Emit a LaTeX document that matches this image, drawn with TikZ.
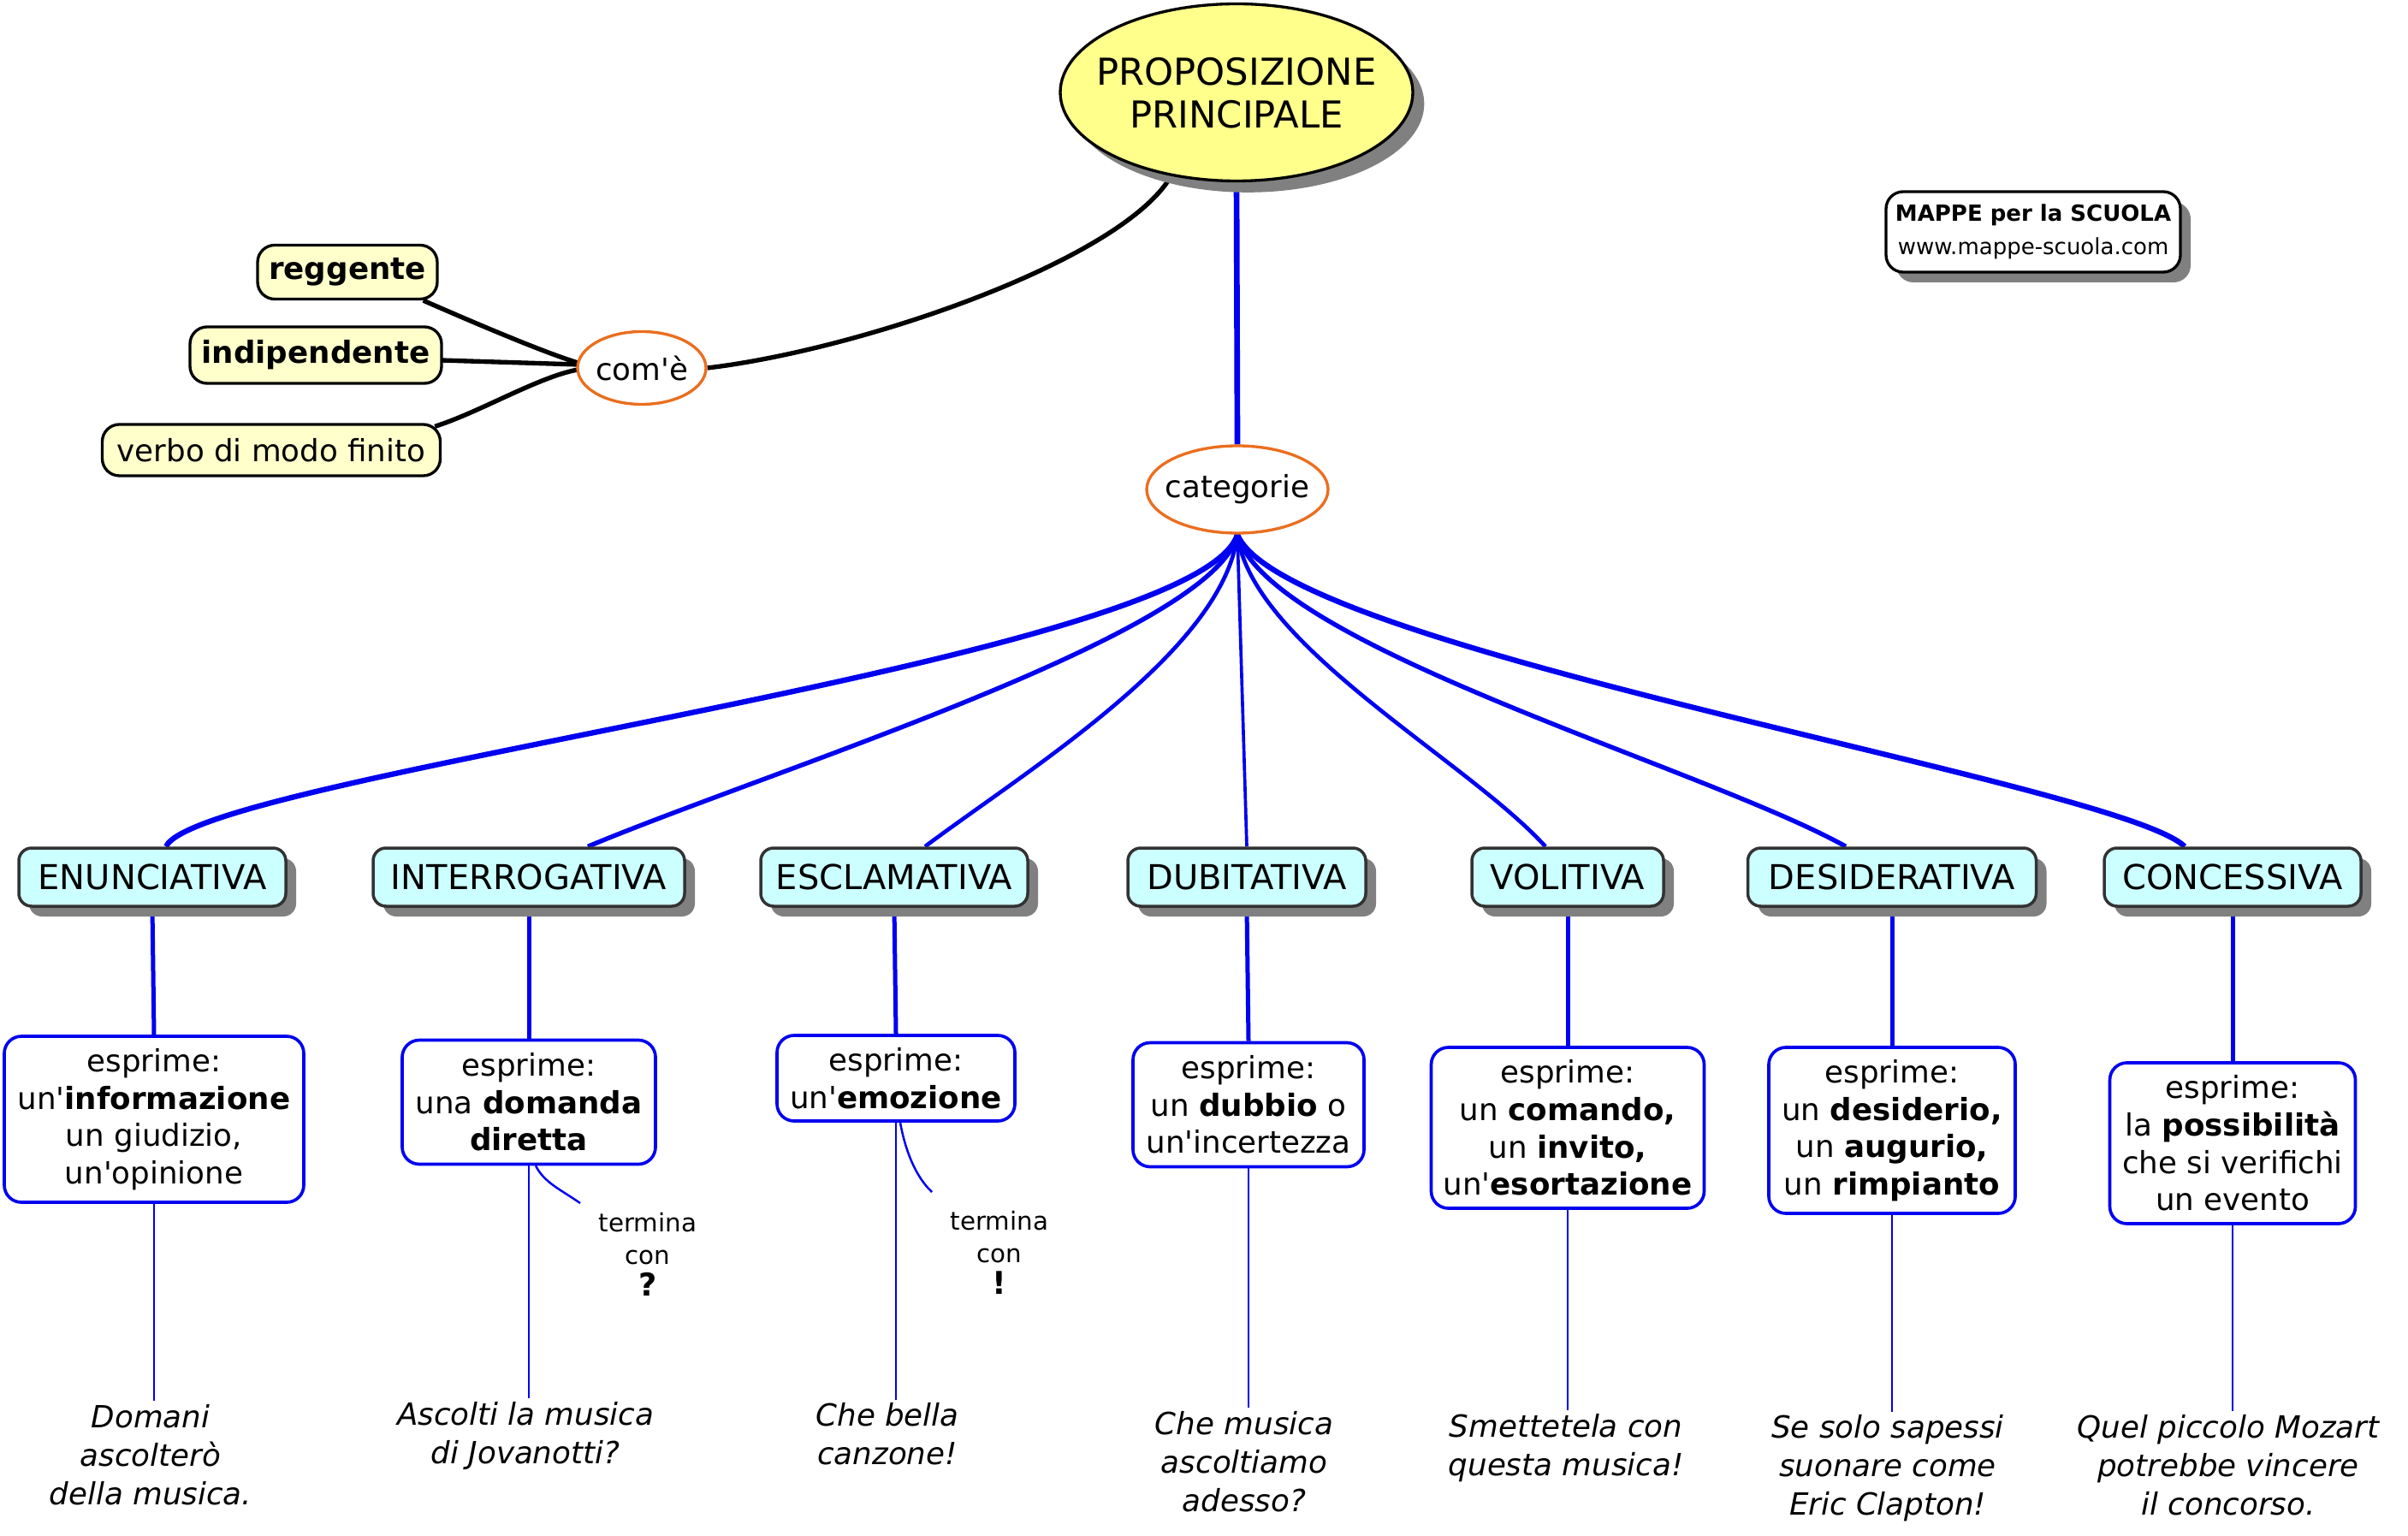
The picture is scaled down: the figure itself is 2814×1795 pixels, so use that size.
\documentclass[tikz,border=0pt]{standalone}
\usepackage{fontspec}
\setmainfont{DejaVu Sans}[Ligatures=TeXOff]
\usetikzlibrary{shapes.geometric,shadows,backgrounds,calc}
\definecolor{lineblue}{RGB}{0,0,240}
\definecolor{orangeb}{RGB}{235,110,30}
\definecolor{mainyel}{RGB}{255,255,140}
\definecolor{lightyel}{RGB}{255,255,204}
\definecolor{lightcyan}{RGB}{204,255,255}
\definecolor{shadowgray}{RGB}{128,128,128}
\definecolor{darkborder}{RGB}{51,51,51}
\begin{document}
\begin{tikzpicture}[x=0.3pt,y=-0.3pt,
 shad/.style={drop shadow={shadow xshift=3.6pt,shadow yshift=-3.6pt,fill=shadowgray,opacity=1}},
 body/.style={font=\fontsize{10.7}{13.1}\selectfont, align=center},
 catbox/.style={draw=darkborder, line width=1.05pt, fill=lightcyan, rounded corners=4.5pt, minimum height=20.4pt, inner sep=0pt, font=\fontsize{12}{14}\selectfont, shad},
 espbox/.style={draw=lineblue, line width=1.1pt, fill=white, rounded corners=6pt, inner sep=0pt, body},
 example/.style={font=\fontsize{10.7}{13.5}\selectfont\itshape, align=center, inner sep=1pt},
 yelbox/.style={draw=black, line width=1pt, fill=lightyel, rounded corners=6pt, inner sep=0pt, body},
 oval/.style={ellipse, draw=orangeb, line width=1pt, fill=white, inner sep=0pt, font=\fontsize{10.7}{13.1}\selectfont},
 termtext/.style={font=\fontsize{8.8}{11.3}\selectfont, align=center, inner sep=0pt},
 thinline/.style={draw=lineblue, line width=0.75pt},
 midline/.style={draw=lineblue, line width=1.5pt},
 blackline/.style={draw=black, line width=1.6pt},
]
\useasboundingbox (0,0) rectangle (2814,1795);

% main ellipse
\node[ellipse, draw=black, line width=1pt, fill=mainyel, minimum width=123.6pt, minimum height=62.1pt, inner sep=0pt,
  drop shadow={shadow xshift=4pt,shadow yshift=-4pt,fill=shadowgray,opacity=1},
  font=\fontsize{13}{15}\selectfont] (main) at (1445,108)
  {\makebox[0pt]{\raisebox{-2.1pt}[\height][\depth]{\begin{tabular}{@{}c@{}}PROPOSIZIONE\\PRINCIPALE\end{tabular}}}};

\node[oval, minimum width=63.6pt, minimum height=30.6pt] (cat) at (1446,572) {\makebox[0pt]{categorie}};
\node[oval, minimum width=45pt, minimum height=25.5pt] (com) at (750,430) {\makebox[0pt]{com'è}};

\node[yelbox, minimum width=63pt, minimum height=18.9pt] (reg) at (406,318) {\textbf{reggente}};
\node[yelbox, minimum width=88.2pt, minimum height=19.8pt] (ind) at (369,415) {\textbf{indipendente}};
\node[yelbox, minimum width=118.5pt, minimum height=18pt] (verb) at (317,526) {verbo di modo finito};

\node[draw=black, line width=1pt, fill=white, rounded corners=6pt, minimum width=103.2pt, minimum height=28.2pt,
  inner sep=0pt, align=center, shad, font=\fontsize{7.8}{11.8}\selectfont] (mappe) at (2376,271)
  {\textbf{MAPPE per la SCUOLA}\\www.mappe-scuola.com};

% categories
\node[catbox, minimum width=93.6pt] (c1) at (178,1025) {ENUNCIATIVA};
\node[catbox, minimum width=109.2pt] (c2) at (618,1025) {INTERROGATIVA};
\node[catbox, minimum width=93.6pt] (c3) at (1045,1025) {ESCLAMATIVA};
\node[catbox, minimum width=83.4pt] (c4) at (1457,1025) {DUBITATIVA};
\node[catbox, minimum width=67.2pt] (c5) at (1832,1025) {VOLITIVA};
\node[catbox, minimum width=101.1pt] (c6) at (2211,1025) {DESIDERATIVA};
\node[catbox, minimum width=90pt] (c7) at (2609,1025) {CONCESSIVA};

% esprime boxes
\node[espbox, minimum width=105pt, minimum height=58.2pt] (e1) at (180,1308)
  {esprime:\\un'\textbf{informazione}\\un giudizio,\\un'opinione};
\node[espbox, minimum width=88.8pt, minimum height=43.5pt] (e2) at (618,1288)
  {esprime:\\una \textbf{domanda}\\\textbf{diretta}};
\node[espbox, minimum width=83.4pt, minimum height=30pt] (e3) at (1047,1260)
  {esprime:\\un'\textbf{emozione}};
\node[espbox, minimum width=81pt, minimum height=43.5pt] (e4) at (1459,1291)
  {esprime:\\un \textbf{dubbio} o\\un'incertezza};
\node[espbox, minimum width=95.7pt, minimum height=56.4pt] (e5) at (1832,1318)
  {esprime:\\un \textbf{comando,}\\un \textbf{invito,}\\un'\textbf{esortazione}};
\node[espbox, minimum width=86.4pt, minimum height=58.2pt] (e6) at (2211,1321)
  {esprime:\\un \textbf{desiderio,}\\un \textbf{augurio,}\\un \textbf{rimpianto}};
\node[espbox, minimum width=86.1pt, minimum height=56.4pt] (e7) at (2609,1336)
  {esprime:\\la \textbf{possibilità}\\che si verifichi\\un evento};

% termina
\node[termtext] (t2) at (757,1466) {termina\\con\\{\fontsize{11}{11}\selectfont\bfseries ?}};
\node[termtext] (t3) at (1168,1464) {termina\\con\\{\fontsize{11}{11}\selectfont\bfseries !}};
\coordinate (t2end) at (678,1406);
\coordinate (t3end) at (1089,1393);

% examples
\node[example] (x1) at (176,1700) {Domani\\ascolterò\\della musica.};
\node[example] (x2) at (614,1678) {Ascolti la musica\\di Jovanotti?};
\node[example] (x3) at (1037,1676) {Che bella\\canzone!};
\node[example] (x4) at (1454,1708) {Che musica\\ascoltiamo\\adesso?};
\node[example] (x5) at (1830,1692) {Smettetela con\\questa musica!};
\node[example] (x6) at (2206,1716) {Se solo sapessi\\suonare come\\Eric Clapton!};
\node[example] (x7) at (2604,1712) {Quel piccolo Mozart\\potrebbe vincere\\il concorso.};

\begin{scope}[on background layer]
\fill[white] (0,0) rectangle (2814,1795);
% black connectors
\draw[blackline] (com.east) .. controls (1005,409) and (1310,305) .. (main.232);
\draw[blackline] ($(reg.south east)+(-18,0)$) .. controls (540,371) and (630,410) .. ($(com.west)+(2,-6)$);
\draw[blackline] ($(ind.east)+(-2,6)$) -- ($(com.west)+(2,-4)$);
\draw[blackline] ($(verb.north east)+(-8,4)$) .. controls (560,482) and (630,440) .. ($(com.west)+(2,2)$);
% main to categorie
\draw[draw=lineblue, line width=2pt] (main.south) -- (cat.north);
% fan
\draw[draw=lineblue, line width=1.9pt] (cat.south) .. controls (1400,772) and (233,906) .. ($(c1.north)+(16,0)$);
\draw[draw=lineblue, line width=1.6pt] (cat.south) .. controls (1420,740) and (900,900) .. ($(c2.north)+(69,0)$);
\draw[draw=lineblue, line width=1.4pt] (cat.south) .. controls (1430,760) and (1200,900) .. ($(c3.north)+(36,0)$);
\draw[draw=lineblue, line width=1.1pt] (cat.south) -- (c4.north);
\draw[draw=lineblue, line width=1.4pt] (cat.south) .. controls (1463,754) and (1714,888) .. ($(c5.north)+(-26,0)$);
\draw[draw=lineblue, line width=1.6pt] (cat.south) .. controls (1481,754) and (1992,897) .. ($(c6.north)+(-54,0)$);
\draw[draw=lineblue, line width=1.9pt] (cat.south) .. controls (1500,760) and (2477,915) .. ($(c7.north)+(-56,0)$);
% category to esprime, esprime to example
\foreach \i in {1,...,7} {
  \draw[midline] (c\i.south) -- (e\i.north);
  \draw[thinline] (e\i.south) -- (e\i.south |- x\i.north);
}
% termina curves
\draw[thinline] ($(e2.south)+(8,0)$) .. controls (636,1382) and (655,1390) .. (t2end);
\draw[thinline] ($(e3.south)+(5,0)$) .. controls (1058,1345) and (1070,1375) .. (t3end);
\end{scope}
\end{tikzpicture}
\end{document}
